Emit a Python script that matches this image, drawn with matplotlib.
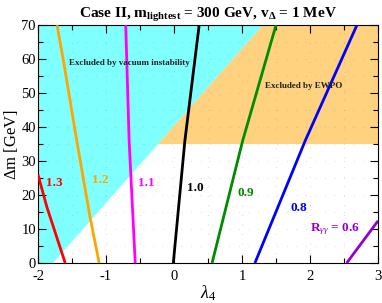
import matplotlib
matplotlib.use("Agg")
import matplotlib.pyplot as plt
import numpy as np
from matplotlib.ticker import MultipleLocator, FuncFormatter

plt.rcParams['font.family'] = ['Liberation Serif', 'DejaVu Serif']
plt.rcParams['mathtext.fontset'] = 'custom'
plt.rcParams['mathtext.rm'] = 'Liberation Serif'
plt.rcParams['mathtext.it'] = 'Liberation Serif:italic'
plt.rcParams['mathtext.bf'] = 'Liberation Serif:bold'

# Contour lines of R_gamma-gamma: (lambda4, delta m) points
labels = ["1.3", "1.2", "1.1", "1.0", "0.9", "0.8", "0.6"]
colors = ["#ff0000", "#ffa500", "#ff00ff", "#000000", "#008b00", "#0000ff", "#9400d3"]
lam_vals = [
    [-2.0, -1.87, -1.60],
    [-1.72, -1.63, -1.43, -1.235, -1.10],
    [-0.71, -0.66, -0.57],
    [0.37, 0.16, -0.01],
    [1.50, 1.01, 0.56],
    [2.69, 1.93, 1.19],
    [3.0, 2.54],
]
dm_vals = [
    [26.0, 16.5, 0.0],
    [70.0, 60.0, 36.0, 13.5, 0.0],
    [70.0, 36.0, 0.0],
    [70.0, 36.0, 0.0],
    [70.0, 36.0, 0.0],
    [70.0, 36.0, 0.0],
    [12.4, 0.0],
]
label_x = [-1.76, -1.09, -0.40, 0.31, 1.06, 1.83, 2.37]
label_y = [23.5, 24.4, 23.5, 22.0, 20.6, 16.2, 10.0]

# Exclusion regions
vac_lam = [-2.0, -1.78, 1.31, -2.0]
vac_dm = [0.0, 0.0, 70.0, 70.0]
ewpo_cut = 35.0
bound_lam = [-1.78, 1.31]
bound_dm = [0.0, 70.0]

fig = plt.figure(figsize=(3.82, 3.03), dpi=100)
ax = fig.add_axes([0.0995, 0.132, 0.89, 0.785])

# vacuum instability (cyan)
ax.fill(vac_lam, vac_dm, color="#80ffff", lw=0, zorder=1)
# EWPO (orange): y >= 35 right of boundary
lam_at_cut = np.interp(ewpo_cut, bound_dm, bound_lam)
ax.fill([lam_at_cut, 3.0, 3.0, bound_lam[1]], [ewpo_cut, ewpo_cut, 70.0, 70.0],
        color="#ffd280", lw=0, zorder=1)

ax.grid(True, which='both', color='#808080', alpha=0.35, linestyle=(0, (0.6, 8)), lw=0.8, zorder=1.5)

for lx, ly, c in zip(lam_vals, dm_vals, colors):
    ax.plot(lx, ly, color=c, lw=2.0, zorder=3, solid_capstyle='butt')

for i, (t, c) in enumerate(zip(labels, colors)):
    txt = t if t != "0.6" else r"R$_{\gamma\gamma}$ = 0.6"
    ax.text(label_x[i], label_y[i], txt, color=c, fontsize=9.5, fontweight='bold',
            ha='center', va='center', zorder=4)

ax.text(-0.65, 59, "Excluded by vacuum instability", fontsize=6.5, fontweight='bold',
        ha='center', va='center', color='#202020', zorder=4)
ax.text(1.91, 52, "Excluded by EWPO", fontsize=6.5, fontweight='bold',
        ha='center', va='center', color='#202020', zorder=4)

ax.set_xlim(-2, 3)
ax.set_ylim(0, 70)
ax.xaxis.set_major_locator(MultipleLocator(1))
ax.xaxis.set_minor_locator(MultipleLocator(0.5))
ax.yaxis.set_major_locator(MultipleLocator(10))
ax.yaxis.set_minor_locator(MultipleLocator(5))
ax.tick_params(which='both', direction='in', top=True, right=True, labelsize=10.5)
ax.tick_params(axis='x', pad=5)
ax.tick_params(axis='y', pad=1.5)
ax.tick_params(which='major', length=6, width=0.8)
ax.tick_params(which='minor', length=3.5, width=0.8)
ax.xaxis.set_major_formatter(FuncFormatter(lambda v, p: f"{v:g}"))
ax.yaxis.set_major_formatter(FuncFormatter(lambda v, p: f"{v:g}"))
for lab in ax.get_yticklabels():
    lab.set_verticalalignment('center_baseline')

ax.set_xlabel(r"$\lambda_4$", fontsize=13, labelpad=0)
ax.set_ylabel(r"$\Delta$m [GeV]", fontsize=12, labelpad=1)
ax.set_title(r"Case II, m$_{\mathbf{lightest}}$ = 300 GeV, v$_{\mathbf{\Delta}}$ = 1 MeV",
             fontsize=11, fontweight='bold', pad=5)

fig.savefig("out.png", dpi=100)
